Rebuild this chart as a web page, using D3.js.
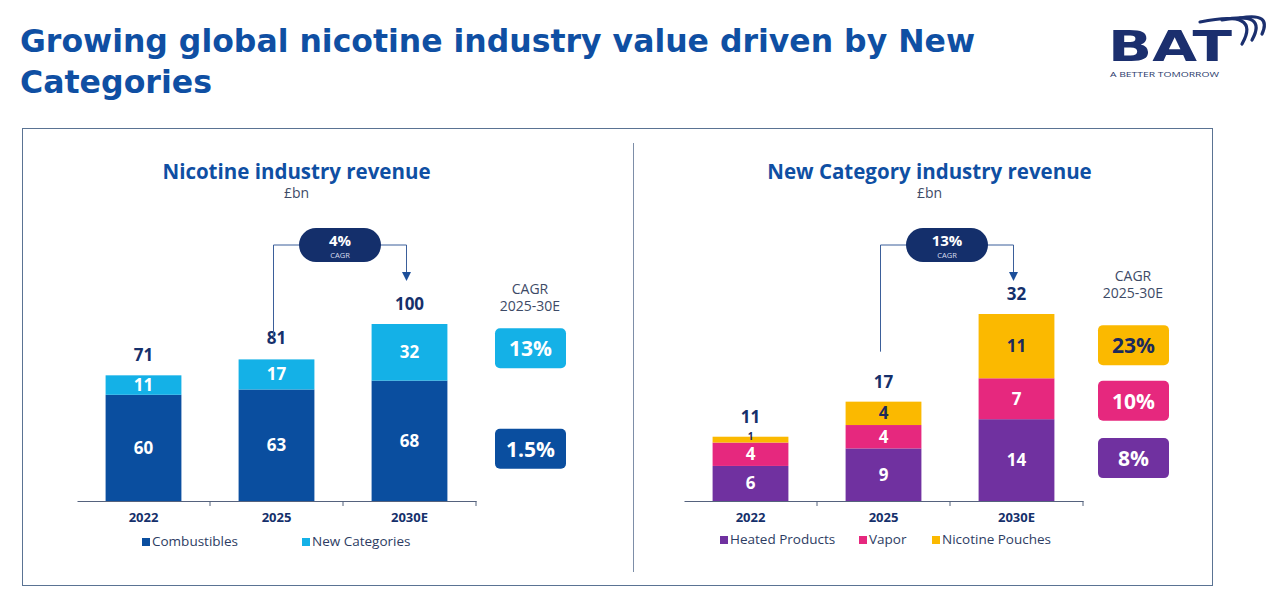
<!DOCTYPE html>
<html>
<head>
<meta charset="utf-8">
<script src="https://cdn.jsdelivr.net/npm/d3@7"></script>
<style>
  body { margin: 0; background: #fff; }
  svg { display: block; font-family: "Open Sans", "Noto Sans", sans-serif; }
</style>
</head>
<body>
<svg width="1280" height="596"></svg>
<script>
// ---- data ----
var years = ["2022", "2025", "2030E"];

var combustibles = [60, 63, 68];
var newCategories = [11, 17, 32];
var nicotineTotals = [71, 81, 100];

var heatedProducts = [6, 9, 14];
var vapor = [4, 4, 7];
var nicotinePouches = [1, 4, 11];
var newCatTotals = [11, 17, 32];

var nicotineCagr = "4%";
var newCatCagr = "13%";
var nicotineSegCagr = ["1.5%", "13%"];          // combustibles, new categories
var newCatSegCagr = ["8%", "10%", "23%"];        // heated, vapor, pouches

var navy = "#15306b",
    titleBlue = "#0f4fa3";

var svg = d3.select("svg");

// ---- header ----
var title = svg.append("text")
    .attr("x", 20)
    .attr("fill", titleBlue)
    .style("font-family", "'DejaVu Sans', sans-serif")
    .style("font-weight", 700)
    .style("font-size", "32px");
title.append("tspan").attr("x", 20).attr("y", 52)
    .attr("textLength", 955).attr("lengthAdjust", "spacingAndGlyphs")
    .text("Growing global nicotine industry value driven by New");
title.append("tspan").attr("x", 20).attr("y", 93)
    .attr("textLength", 192).attr("lengthAdjust", "spacingAndGlyphs")
    .text("Categories");

// logo
var logo = svg.append("g");
logo.append("text")
    .attr("x", 1108).attr("y", 61)
    .attr("textLength", 124).attr("lengthAdjust", "spacingAndGlyphs")
    .attr("fill", "#1b2f6e")
    .style("font-family", "'DejaVu Sans', sans-serif")
    .style("font-weight", 700)
    .style("font-size", "42px")
    .text("BAT");
logo.append("text")
    .attr("x", 1110).attr("y", 77)
    .attr("textLength", 109).attr("lengthAdjust", "spacingAndGlyphs")
    .attr("fill", "#2b3a6b")
    .style("font-size", "7.5px")
    .text("A BETTER TOMORROW");
[[1200, 22, 1262, 9, 1242, 44], [1222, 20, 1268, 11, 1252, 40], [1240, 18, 1272, 12, 1262, 34]]
  .forEach(function(s) {
    logo.append("path")
        .attr("d", "M" + s[0] + "," + s[1] + " Q" + s[2] + "," + s[3] + " " + s[4] + "," + s[5])
        .attr("fill", "none")
        .attr("stroke", "#1b2f6e")
        .attr("stroke-width", 3.2)
        .attr("stroke-linecap", "round");
  });

// frame + divider
svg.append("rect")
    .attr("x", 22.5).attr("y", 128.5)
    .attr("width", 1190).attr("height", 457)
    .attr("fill", "none")
    .attr("stroke", "#5a7393")
    .attr("stroke-width", 1);
svg.append("line")
    .attr("x1", 633.5).attr("x2", 633.5)
    .attr("y1", 143).attr("y2", 572)
    .attr("stroke", "#7d8ea8");

// ---- one stacked panel ----
function drawPanel(opt) {
    var g = svg.append("g");

    var x = d3.scaleBand().domain(years).range(opt.xRange).paddingInner(0.43).paddingOuter(0.215);
    var y = d3.scaleLinear().domain([0, opt.max]).range([501, opt.topY]);

    var rows = years.map(function(yr, i) {
        var r = { year: yr };
        opt.keys.forEach(function(k, j) { r[k] = opt.series[j][i]; });
        return r;
    });
    var stacked = d3.stack().keys(opt.keys)(rows);

    // titles
    var cx = (opt.xRange[0] + opt.xRange[1]) / 2 + opt.titleShift;
    g.append("text").attr("x", cx).attr("y", 179)
        .attr("text-anchor", "middle")
        .attr("fill", titleBlue)
        .style("font-weight", 700).style("font-size", "20.5px")
        .text(opt.title);
    g.append("text").attr("x", cx).attr("y", 198)
        .attr("text-anchor", "middle")
        .attr("fill", "#3d4a66")
        .style("font-size", "14px")
        .text("£bn");

    // bars
    var layer = g.selectAll(".layer")
        .data(stacked)
        .enter().append("g")
        .attr("fill", function(d, i) { return opt.colors[i]; });

    layer.selectAll("rect")
        .data(function(d) { return d; })
        .enter().append("rect")
        .attr("x", function(d) { return x(d.data.year); })
        .attr("width", x.bandwidth())
        .attr("y", function(d) { return y(d[1]); })
        .attr("height", function(d) { return y(d[0]) - y(d[1]); });

    // segment labels (thin segments get a smaller label)
    stacked.forEach(function(s, i) {
        g.selectAll(null)
            .data(s)
            .enter().append("text")
            .attr("x", function(d) { return x(d.data.year) + x.bandwidth() / 2; })
            .attr("y", function(d) {
                var h = y(d[0]) - y(d[1]);
                return (y(d[0]) + y(d[1])) / 2 + (h < 12 ? 0 : 6);
            })
            .attr("text-anchor", "middle")
            .attr("fill", opt.labelColors[i])
            .style("font-weight", 700)
            .style("font-size", function(d) { return (y(d[0]) - y(d[1])) < 12 ? "10px" : "17px"; })
            .text(function(d) { return d[1] - d[0]; });
    });

    // totals
    g.selectAll(".total")
        .data(opt.totals)
        .enter().append("text")
        .attr("x", function(d, i) { return x(years[i]) + x.bandwidth() / 2; })
        .attr("y", function(d) { return y(d) - 14; })
        .attr("text-anchor", "middle")
        .attr("fill", navy)
        .style("font-weight", 700).style("font-size", "17px")
        .text(function(d) { return d; });

    // axis
    var axis = g.append("g")
        .attr("transform", "translate(0,501)")
        .call(d3.axisBottom(x).tickSize(0).tickPadding(12));
    axis.select(".domain").attr("stroke", "#55627d");
    axis.selectAll("text")
        .attr("fill", navy)
        .style("font-family", "'Open Sans', sans-serif")
        .style("font-weight", 700).style("font-size", "13px");
    var bounds = years.map(function(yr) { return x(yr) - x.step() * x.paddingInner() / 2; });
    bounds.push(opt.xRange[1]);
    g.selectAll(".sep")
        .data(bounds.slice(1))
        .enter().append("line")
        .attr("x1", function(d) { return d; }).attr("x2", function(d) { return d; })
        .attr("y1", 501).attr("y2", 506)
        .attr("stroke", "#55627d");

    // CAGR bracket between 2025 and 2030E
    var x1 = x("2025") + x.bandwidth() / 2 - 3,
        x2 = x("2030E") + x.bandwidth() / 2 - 3,
        yTop = 245,
        yStart = y(opt.totals[1]) - opt.bracketGap,
        yEnd = 272;
    g.append("path")
        .attr("d", "M" + x1 + "," + yStart + "V" + yTop + "H" + x2 + "V" + yEnd)
        .attr("fill", "none")
        .attr("stroke", "#3b5f9a")
        .attr("stroke-width", 1);
    g.append("path")
        .attr("d", "M" + (x2 - 4.5) + "," + yEnd + "L" + (x2 + 4.5) + "," + yEnd + "L" + x2 + "," + (yEnd + 9) + "Z")
        .attr("fill", "#1d4f9a");
    var pc = (x1 + x2) / 2;
    g.append("rect")
        .attr("x", pc - 41).attr("y", yTop - 17)
        .attr("width", 82).attr("height", 34).attr("rx", 17)
        .attr("fill", "#142f6b");
    g.append("text").attr("x", pc).attr("y", yTop + 1)
        .attr("text-anchor", "middle").attr("fill", "#fff")
        .style("font-weight", 700).style("font-size", "15px")
        .text(opt.cagr);
    g.append("text").attr("x", pc).attr("y", yTop + 13)
        .attr("text-anchor", "middle").attr("fill", "#d8def0")
        .style("font-size", "7.5px")
        .text("CAGR");

    // right-hand CAGR badges
    var bx = opt.badgeX;
    g.append("text").attr("x", bx + 35).attr("y", opt.cagrTitleY)
        .attr("text-anchor", "middle").attr("fill", "#3d4a66")
        .style("font-size", "14px")
        .text("CAGR");
    g.append("text").attr("x", bx + 35).attr("y", opt.cagrTitleY + 17)
        .attr("text-anchor", "middle").attr("fill", "#3d4a66")
        .style("font-size", "14px")
        .text("2025-30E");

    var last = stacked.map(function(s) { return s[2]; });
    var badges = g.selectAll(".badge")
        .data(last)
        .enter().append("g")
        .attr("transform", function(d, i) {
            return "translate(" + bx + "," + ((y(d[0]) + y(d[1])) / 2 + opt.badgeShift[i]) + ")";
        });
    badges.append("rect")
        .attr("x", 0).attr("y", -20)
        .attr("width", 71).attr("height", 40).attr("rx", 5)
        .attr("fill", function(d, i) { return opt.colors[i]; });
    badges.append("text")
        .attr("x", 35.5).attr("y", 8)
        .attr("text-anchor", "middle")
        .attr("fill", function(d, i) { return opt.labelColors[i]; })
        .style("font-weight", 700).style("font-size", "21px")
        .text(function(d, i) { return opt.segCagr[i]; });

    // legend
    var leg = g.selectAll(".leg")
        .data(opt.keys)
        .enter().append("g")
        .attr("transform", function(d, i) { return "translate(" + opt.legendX[i] + "," + opt.legendY + ")"; });
    leg.append("rect")
        .attr("x", 0).attr("y", -8)
        .attr("width", 8).attr("height", 8)
        .attr("fill", function(d, i) { return opt.colors[i]; });
    leg.append("text")
        .attr("x", 10).attr("y", 0)
        .attr("fill", "#2d3c63")
        .style("font-size", "13.5px")
        .text(function(d) { return d; });
}

drawPanel({
    title: "Nicotine industry revenue",
    keys: ["Combustibles", "New Categories"],
    series: [combustibles, newCategories],
    totals: nicotineTotals,
    colors: ["#0a4e9f", "#14b1e7"],
    labelColors: ["#fff", "#fff"],
    max: 100, topY: 324,
    xRange: [77, 476],
    titleShift: 20,
    bracketGap: 20,
    cagr: nicotineCagr,
    segCagr: nicotineSegCagr,
    badgeX: 495, badgeShift: [8, -4],
    cagrTitleY: 294,
    legendX: [142, 302], legendY: 546
});

drawPanel({
    title: "New Category industry revenue",
    keys: ["Heated Products", "Vapor", "Nicotine Pouches"],
    series: [heatedProducts, vapor, nicotinePouches],
    totals: newCatTotals,
    colors: ["#7031a0", "#e6287e", "#fbb900"],
    labelColors: ["#fff", "#fff", "#1b2a5c"],
    max: 32, topY: 314,
    xRange: [684, 1083],
    titleShift: 46,
    bracketGap: 50,
    cagr: newCatCagr,
    segCagr: newCatSegCagr,
    badgeX: 1098, badgeShift: [-2, 2, -1],
    cagrTitleY: 281,
    legendX: [720, 859, 932], legendY: 544
});
</script>
</body>
</html>
